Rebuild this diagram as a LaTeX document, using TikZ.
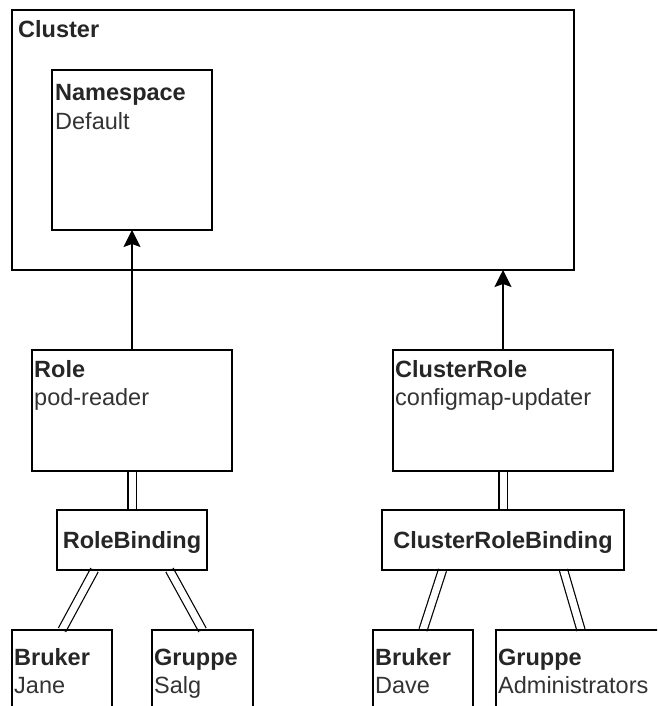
\documentclass[tikz,border=0pt]{standalone}
\usepackage{fontspec}
\setmainfont{Liberation Sans}
\usetikzlibrary{arrows.meta,calc,backgrounds}

\begin{document}
\begin{tikzpicture}[x=1pt,y=-1pt,
  box/.style={draw=black, line width=1.3pt, rectangle, inner sep=0pt, outer sep=0pt, anchor=north west},
  ttl/.style={anchor=base west, inner sep=0pt, font=\fontsize{23.5}{28}\selectfont\bfseries, text=black!85},
  sub/.style={anchor=base west, inner sep=0pt, font=\fontsize{23.5}{28}\selectfont, text=black!80},
  mid/.style={anchor=base, inner sep=0pt, font=\fontsize{23.5}{28}\selectfont\bfseries, text=black!85},
  link/.style={line width=1.3pt, -{Stealth[length=17pt,width=17pt,inset=3pt]}},
  bind/.style={line width=1.2pt, double=white, double distance=7pt}]

\path[use as bounding box, clip] (0,0) rectangle (657,706);

% boxes
\node[box, minimum width=562pt, minimum height=260pt] (cluster) at (12,10) {};
\node[box, minimum width=160pt, minimum height=160pt] (ns) at (52,70) {};
\node[box, minimum width=200pt, minimum height=121pt] (role) at (32,350) {};
\node[box, minimum width=220pt, minimum height=121pt] (clrole) at (393,350) {};
\node[box, minimum width=150pt, minimum height=60pt] (rb) at (57,510) {};
\node[box, minimum width=242pt, minimum height=60pt] (crb) at (382,510) {};
\node[box, minimum width=100pt, minimum height=100pt] (bj) at (12,630) {};
\node[box, minimum width=101pt, minimum height=100pt] (gs) at (152,630) {};
\node[box, minimum width=100pt, minimum height=100pt] (bd) at (373,630) {};
\node[box, minimum width=170pt, minimum height=100pt] (ga) at (496,630) {};

% labels
\node[ttl] (clusterT) at (18,38) {Cluster};
\node[ttl] (nsT) at (55,101) {Namespace};
\node[sub] (nsS) at (55,129) {Default};
\node[ttl] (roleT) at (34,377) {Role};
\node[sub] (roleS) at (34,405) {pod-reader};
\node[ttl] (clroleT) at (395,377) {ClusterRole};
\node[sub] (clroleS) at (395,405) {configmap-updater};
\node[mid] (rbT) at ($(rb.center)+(0,8.5)$) {RoleBinding};
\node[mid] (crbT) at ($(crb.center)+(0,8.5)$) {ClusterRoleBinding};
\node[ttl] (bjT) at (14,665) {Bruker};
\node[sub] (bjS) at (14,693) {Jane};
\node[ttl] (gsT) at (154,665) {Gruppe};
\node[sub] (gsS) at (154,693) {Salg};
\node[ttl] (bdT) at (375,665) {Bruker};
\node[sub] (bdS) at (375,693) {Dave};
\node[ttl] (gaT) at (498,665) {Gruppe};
\node[sub] (gaS) at (498,693) {Administrators};

% connectors
\begin{scope}[on background layer]
  \draw[link] (role.north) -- (ns.south);
  \draw[link] (clrole.north) -- (clrole.north |- cluster.south);
  \draw[bind] (role.south) -- (rb.north);
  \draw[bind] (clrole.south) -- (crb.north);
  \draw[bind] ($(rb.south west)!0.25!(rb.south east)$) -- (bj.north);
  \draw[bind] ($(rb.south west)!0.75!(rb.south east)$) -- (gs.north);
  \draw[bind] ($(crb.south west)!0.25!(crb.south east)$) -- (bd.north);
  \draw[bind] ($(crb.south west)!0.75!(crb.south east)$) -- (ga.north);
\end{scope}
\end{tikzpicture}
\end{document}
